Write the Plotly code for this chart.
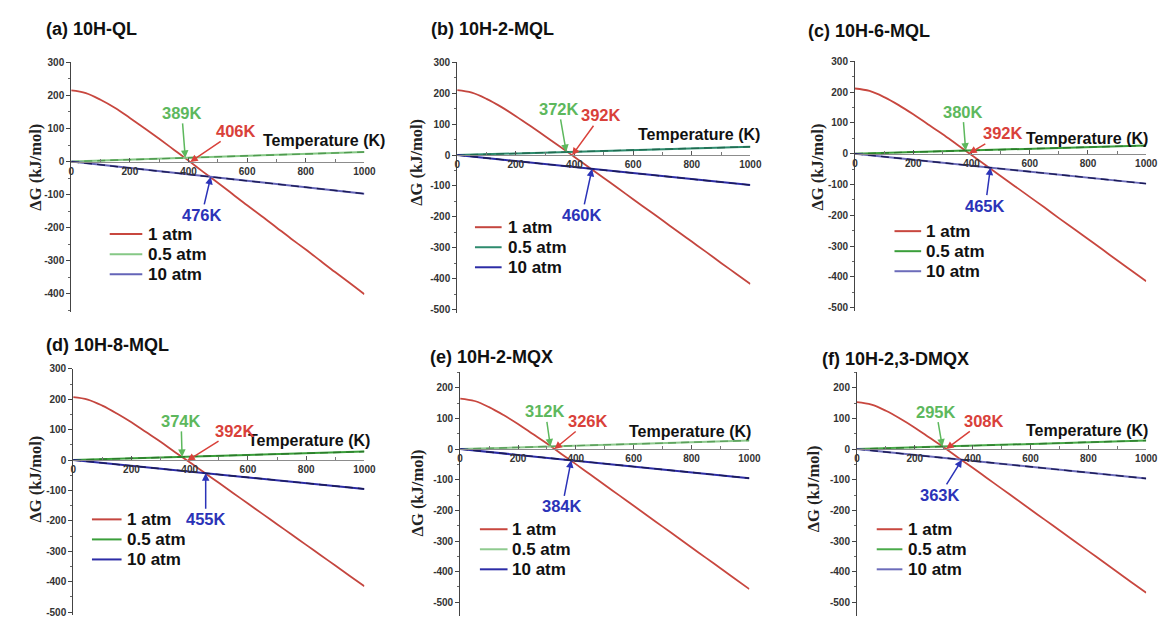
import numpy as np
import plotly.graph_objects as go

# ---------------- data ----------------
panel_titles = ["(a) 10H-QL", "(b) 10H-2-MQL", "(c) 10H-6-MQL",
                "(d) 10H-8-MQL", "(e) 10H-2-MQX", "(f) 10H-2,3-DMQX"]
series_names = ["1 atm", "0.5 atm", "10 atm"]

T_red = [0, 50, 100, 150, 200, 250, 300, 350, 400, 450, 500,
         550, 600, 650, 700, 750, 800, 850, 900, 950, 1000]
red_a = [215, 207, 187, 162, 132, 101, 69, 36, 3, -31, -64,
         -98, -132, -165, -199, -233, -266, -300, -334, -367, -401]
red_b = [210, 202, 182, 156, 126, 94, 61, 28, -6, -40, -74,
         -108, -143, -177, -211, -246, -280, -314, -349, -383, -417]
red_c = [212, 204, 184, 158, 128, 96, 64, 30, -4, -38, -72,
         -106, -140, -174, -209, -243, -277, -311, -346, -380, -414]
red_d = [207, 199, 179, 153, 124, 92, 60, 26, -7, -41, -75,
         -109, -143, -177, -211, -245, -279, -313, -347, -381, -415]
red_e = [165, 157, 137, 111, 82, 50, 18, -16, -49, -83, -117,
         -151, -185, -219, -253, -287, -321, -355, -389, -423, -457]
red_f = [153, 145, 125, 99, 70, 38, 6, -28, -61, -95, -129,
         -163, -197, -231, -265, -299, -333, -367, -401, -435, -469]

T_line = [0, 1000]
green_a = [0, 29]
green_b = [0, 27]
green_c = [0, 27]
green_d = [0, 28]
green_e = [0, 28]
green_f = [0, 28]
blue_a = [0, -97]
blue_b = [0, -97]
blue_c = [0, -97]
blue_d = [0, -95]
blue_e = [0, -95]
blue_f = [0, -96]

cross_green = [389, 372, 380, 374, 312, 295]
cross_red = [406, 392, 392, 392, 326, 308]
cross_blue = [476, 460, 465, 455, 384, 363]

x_tick_vals = [0, 200, 400, 600, 800, 1000]
x_tick_text = ["0", "200", "400", "600", "800", "1000"]
y_tick_vals = [-500, -400, -300, -200, -100, 0, 100, 200, 300]
y_tick_text = ["-500", "-400", "-300", "-200", "-100", "0", "100", "200", "300"]

reds = [red_a, red_b, red_c, red_d, red_e, red_f]
greens = [green_a, green_b, green_c, green_d, green_e, green_f]
blues = [blue_a, blue_b, blue_c, blue_d, blue_e, blue_f]

# ---------------- layout geometry (pixels) ----------------
W, H = 1167, 618
geo = [  # x0, x1, top, bottom, ymin, ymax
    (61, 358, 49, 302, -455, 300),
    (452, 749, 49, 302.6, -510, 300),
    (855, 1150, 48, 300.7, -510, 300),
    (63, 358, 359.5, 609, -510, 300),
    (455, 748, 363.2, 610, -545, 250),
    (857, 1150, 363.2, 610, -545, 250),
]
title_pos = [(33, 15), (423, 15), (805, 17), (33, 335), (422, 347), (820, 350)]
ytitle_pos = [(25, 155), (410, 150), (817, 155), (25, 471), (412, 485), (813, 481)]
temp_pos = [(317, 128), (697, 122), (1090, 126), (302, 432), (688, 423), (1090, 422)]
# legend: line start, line end, text start, first-row centre y
legend_geo = [(100, 133, 137, 223), (470, 497, 501, 216), (895, 922, 925, 220),
              (82, 112, 115, 512), (475, 503, 506, 522), (877, 903, 907, 522)]
ROW = 20.3
arrow_off = [
    [(-3.5, -45), (46, -31), (-9, 38)],
    [(-7.5, -43), (29, -40), (-10, 46)],
    [(-3, -39), (34, -20), (-5, 38)],
    [(-1, -36), (48, -30), (0, 46)],
    [(-5, -35), (34, -28), (-9, 46)],
    [(-6, -35), (38, -28), (-22, 35)],
]

red_col = ["#c8473f", "#c4463f", "#c8473f", "#c4463f", "#c8473f", "#c8473f"]
green_col = ["#86c886", "#2e8b6e", "#3a9e3a", "#3a9e3a", "#8fca8f", "#4aaa4a"]
green_dash = ["#4f9a4f", "#1f6b50", "#2a7a2a", "#2a7a2a", "#5a9f5a", "#2f7f2f"]
blue_col = ["#6464b8", "#2c2ca6", "#6c6cba", "#2c2ca6", "#2c2ca6", "#6c6cba"]
blue_dash = "#1b1b55"
txt_green, txt_red, txt_blue = "#5db85d", "#d9413a", "#2b33b8"

SANS = "Liberation Sans"
SERIF = "Liberation Serif"

fig = go.Figure()
annotations = []
shapes = []
layout = {}

for i in range(6):
    sfx = "" if i == 0 else str(i + 1)
    xref, yref = "x" + sfx, "y" + sfx
    x0, x1, top, bottom, ymin, ymax = geo[i]
    zero_px = top + (ymax - 0) / (ymax - ymin) * (bottom - top)

    fig.add_trace(go.Scatter(x=T_red, y=reds[i], mode="lines", name=series_names[0],
                             line=dict(color=red_col[i], width=1.8, shape="spline"),
                             xaxis=xref, yaxis=yref, showlegend=False))
    fig.add_trace(go.Scatter(x=T_line, y=greens[i], mode="lines", name=series_names[1],
                             line=dict(color=green_col[i], width=2), xaxis=xref, yaxis=yref,
                             showlegend=False))
    fig.add_trace(go.Scatter(x=T_line, y=greens[i], mode="lines", name=series_names[1],
                             line=dict(color=green_dash[i], width=1.4, dash="8px,5px"),
                             xaxis=xref, yaxis=yref, showlegend=False, hoverinfo="skip"))
    fig.add_trace(go.Scatter(x=T_line, y=blues[i], mode="lines", name=series_names[2],
                             line=dict(color=blue_col[i], width=2), xaxis=xref, yaxis=yref,
                             showlegend=False))
    fig.add_trace(go.Scatter(x=T_line, y=blues[i], mode="lines", name=series_names[2],
                             line=dict(color=blue_dash, width=1.4, dash="8px,5px"),
                             xaxis=xref, yaxis=yref, showlegend=False, hoverinfo="skip"))

    tickfont = dict(family=SANS, size=10, color="#333333", weight="bold")
    layout["xaxis" + sfx] = dict(
        domain=[x0 / W, x1 / W], range=[0, 1000], anchor="free",
        position=(H - zero_px) / H, showline=True, linecolor="#8c8c8c", linewidth=1,
        ticks="inside", ticklen=4, tickcolor="#555555",
        tickvals=x_tick_vals, ticktext=x_tick_text,
        minor=dict(dtick=100, tick0=0, ticks="inside", ticklen=3, tickcolor="#777777"),
        showgrid=False, zeroline=False, tickfont=tickfont, fixedrange=True,
    )
    yv = [v for v in y_tick_vals if ymin <= v <= ymax]
    yt = [t for v, t in zip(y_tick_vals, y_tick_text) if ymin <= v <= ymax]
    layout["yaxis" + sfx] = dict(
        domain=[1 - bottom / H, 1 - top / H], range=[ymin, ymax], anchor=xref,
        showline=True, linecolor="#444444", linewidth=1, ticks="outside", ticklen=4,
        tickcolor="#444444", tickvals=yv, ticktext=yt,
        minor=dict(dtick=50, tick0=0, ticks="outside", ticklen=2, tickcolor="#666666"),
        showgrid=False, zeroline=False, tickfont=tickfont, fixedrange=True,
    )

    # legend (drawn as line samples + labels)
    lx0, lx1, ltx, ly = legend_geo[i]
    for k, (nm, col) in enumerate(zip(series_names, [red_col[i], green_col[i], blue_col[i]])):
        yy = ly + k * ROW
        shapes.append(dict(type="line", xref="paper", yref="paper",
                           x0=lx0 / W, x1=lx1 / W, y0=1 - yy / H, y1=1 - yy / H,
                           line=dict(color=col, width=2)))
        annotations.append(dict(text=nm, x=ltx / W, y=1 - yy / H, xref="paper", yref="paper",
                                xanchor="left", yanchor="middle", showarrow=False,
                                font=dict(family=SANS, size=17, color="#111111",
                                          weight="bold")))

    # panel title
    tx, ty = title_pos[i]
    annotations.append(dict(text=panel_titles[i], x=tx / W, y=1 - ty / H, xref="paper",
                            yref="paper", xanchor="left", yanchor="middle", showarrow=False,
                            font=dict(family=SANS, size=18, color="#111111", weight="bold")))
    # y-axis title
    yx, yy = ytitle_pos[i]
    annotations.append(dict(text="ΔG (kJ/mol)", x=yx / W, y=1 - yy / H, xref="paper",
                            yref="paper", xanchor="center", yanchor="middle", textangle=-90,
                            showarrow=False,
                            font=dict(family=SERIF, size=16.5, color="#222222", weight="bold")))
    # x-axis title
    px_, py_ = temp_pos[i]
    annotations.append(dict(text="Temperature (K)", x=px_ / W, y=1 - py_ / H, xref="paper",
                            yref="paper", xanchor="center", yanchor="middle", showarrow=False,
                            font=dict(family=SANS, size=16, color="#111111", weight="bold")))
    # crossing-point annotations
    tg, tr, tb = cross_green[i], cross_red[i], cross_blue[i]
    tips = [
        (tg, float(np.interp(tg, T_line, greens[i])), f"{tg}K", txt_green),
        (tr, float(np.interp(tr, T_red, reds[i])), f"{tr}K", txt_red),
        (tb, float(np.interp(tb, T_line, blues[i])), f"{tb}K", txt_blue),
    ]
    for (xx, yy_, label, col), (ax, ay) in zip(tips, arrow_off[i]):
        annotations.append(dict(text=label, x=xx, y=yy_, xref=xref, yref=yref,
                                ax=ax, ay=ay, showarrow=True, arrowhead=2, arrowsize=1,
                                arrowwidth=1.5, arrowcolor=col,
                                font=dict(family=SANS, size=16.5, color=col, weight="bold")))

fig.update_layout(
    width=W, height=H, margin=dict(l=0, r=0, t=0, b=0),
    paper_bgcolor="white", plot_bgcolor="white", showlegend=False,
    annotations=annotations, shapes=shapes, **layout,
)

fig.write_html("out.html")
